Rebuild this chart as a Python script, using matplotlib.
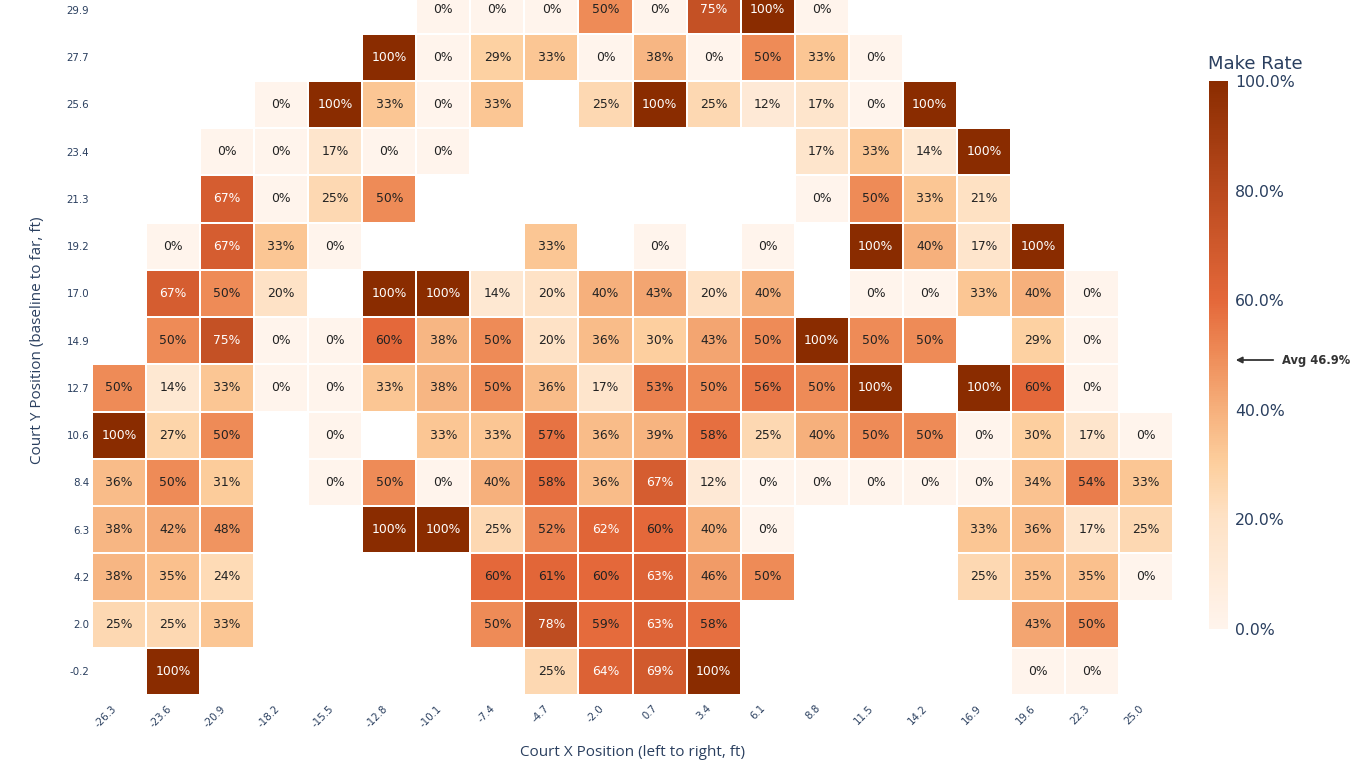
import numpy as np
import matplotlib
matplotlib.use("Agg")
import matplotlib.pyplot as plt
from matplotlib.colors import LinearSegmentedColormap

# court bins (ft)
X_LABELS = ["-26.3", "-23.6", "-20.9", "-18.2", "-15.5", "-12.8", "-10.1", "-7.4", "-4.7", "-2.0",
            "0.7", "3.4", "6.1", "8.8", "11.5", "14.2", "16.9", "19.6", "22.3", "25.0"]
Y_LABELS = ["-0.2", "2.0", "4.2", "6.3", "8.4", "10.6", "12.7", "14.9", "17.0", "19.2",
            "21.3", "23.4", "25.6", "27.7", "29.9"]

N = None
# make rate (%) per bin, rows from baseline (-0.2) to far (29.9)
MAKE_RATE = [
    [N, 100, N, N, N, N, N, N, 25, 64, 69, 100, N, N, N, N, N, 0, 0, N],
    [25, 25, 33, N, N, N, N, 50, 78, 59, 63, 58, N, N, N, N, N, 43, 50, N],
    [38, 35, 24, N, N, N, N, 60, 61, 60, 63, 46, 50, N, N, N, 25, 35, 35, 0],
    [38, 42, 48, N, N, 100, 100, 25, 52, 62, 60, 40, 0, N, N, N, 33, 36, 17, 25],
    [36, 50, 31, N, 0, 50, 0, 40, 58, 36, 67, 12, 0, 0, 0, 0, 0, 34, 54, 33],
    [100, 27, 50, N, 0, N, 33, 33, 57, 36, 39, 58, 25, 40, 50, 50, 0, 30, 17, 0],
    [50, 14, 33, 0, 0, 33, 38, 50, 36, 17, 53, 50, 56, 50, 100, N, 100, 60, 0, N],
    [N, 50, 75, 0, 0, 60, 38, 50, 20, 36, 30, 43, 50, 100, 50, 50, N, 29, 0, N],
    [N, 67, 50, 20, N, 100, 100, 14, 20, 40, 43, 20, 40, N, 0, 0, 33, 40, 0, N],
    [N, 0, 67, 33, 0, N, N, N, 33, N, 0, N, 0, N, 100, 40, 17, 100, N, N],
    [N, N, 67, 0, 25, 50, N, N, N, N, N, N, N, 0, 50, 33, 21, N, N, N],
    [N, N, 0, 0, 17, 0, 0, N, N, N, N, N, N, 17, 33, 14, 100, N, N, N],
    [N, N, N, 0, 100, 33, 0, 33, N, 25, 100, 25, 12, 17, 0, 100, N, N, N, N],
    [N, N, N, N, N, 100, 0, 29, 33, 0, 38, 0, 50, 33, 0, N, N, N, N, N],
    [N, N, N, N, N, N, 0, 0, 0, 50, 0, 75, 100, 0, N, N, N, N, N, N],
]
AVG_RATE = 46.9
CBAR_TICKS = [0, 20, 40, 60, 80, 100]

FG = "#2a3f5f"

cmap = LinearSegmentedColormap.from_list("make_rate", [
    (0.0, "#fff4ec"),
    (0.2, "#fee2c6"),
    (0.3, "#fdcf9e"),
    (0.4, "#f6b07c"),
    (0.5, "#ee8c58"),
    (0.6, "#e4683a"),
    (0.8, "#ba4a1e"),
    (1.0, "#8a2c00"),
])

z = np.array([[np.nan if v is None else v for v in row] for row in MAKE_RATE], dtype=float)
z = np.ma.masked_invalid(z)

fig = plt.figure(figsize=(13.66, 7.68), dpi=100)
ax = fig.add_axes([92 / 1366, 73 / 768, 1081 / 1366, 695 / 768])

xe = np.arange(len(X_LABELS) + 1) - 0.5
ye = np.arange(len(Y_LABELS) + 1) - 0.5
mesh = ax.pcolormesh(xe, ye, z, cmap=cmap, vmin=0, vmax=100,
                     edgecolors="white", linewidth=1.3)

for i in range(z.shape[0]):
    for j in range(z.shape[1]):
        if z.mask[i, j]:
            continue
        v = z[i, j]
        ax.text(j, i, f"{v:.0f}%", ha="center", va="center", fontsize=8.9,
                color="white" if v > 61 else "#222222")

ax.set_xlim(-0.5, len(X_LABELS) - 0.5)
ax.set_ylim(-0.5, len(Y_LABELS) - 1 + 0.21)
ax.set_xticks(range(len(X_LABELS)))
ax.set_xticklabels(X_LABELS, rotation=45, ha="right", va="top", fontsize=7.4, color=FG)
ax.set_yticks(range(len(Y_LABELS)))
ax.set_yticklabels(Y_LABELS, fontsize=7.4, color=FG)
ax.tick_params(length=0)
ax.tick_params(axis="x", pad=6)
ax.tick_params(axis="y", pad=2)
for s in ax.spines.values():
    s.set_visible(False)

ax.set_xlabel("Court X Position (left to right, ft)", fontsize=11, color=FG, family="Open Sans")
ax.set_ylabel("Court Y Position (baseline to far, ft)", fontsize=11, color=FG, family="Open Sans")
ax.xaxis.set_label_coords(0.5, (695 - 752) / 695)
ax.yaxis.set_label_coords((38 - 92) / 1081, 0.51)
ax.xaxis.label.set_va("center")
ax.yaxis.label.set_va("center")

# colorbar
cax = fig.add_axes([1209 / 1366, (768 - 629) / 768, 19 / 1366, 548 / 768])
cb = fig.colorbar(mesh, cax=cax)
cb.outline.set_visible(False)
cb.set_ticks(CBAR_TICKS)
cb.set_ticklabels([f"{t:.1f}%" for t in CBAR_TICKS])
cax.tick_params(length=0, pad=5, labelsize=11.3, labelcolor=FG)
fig.text(1208 / 1366, 1 - 64 / 768, "Make Rate", fontsize=13, color=FG, ha="left", va="center")

# average marker
fig.text(1282 / 1366, 1 - 361 / 768, f"Avg {AVG_RATE:.1f}%", fontsize=8.3, fontweight="bold",
         color="#333333", ha="left", va="center")
ax.annotate("", xy=(1233 / 1366, 1 - 360 / 768), xycoords="figure fraction",
            xytext=(1276 / 1366, 1 - 360 / 768), textcoords="figure fraction",
            arrowprops=dict(arrowstyle="-|>", color="#333333", lw=1.3, mutation_scale=9))

fig.savefig("out.png", dpi=100)
